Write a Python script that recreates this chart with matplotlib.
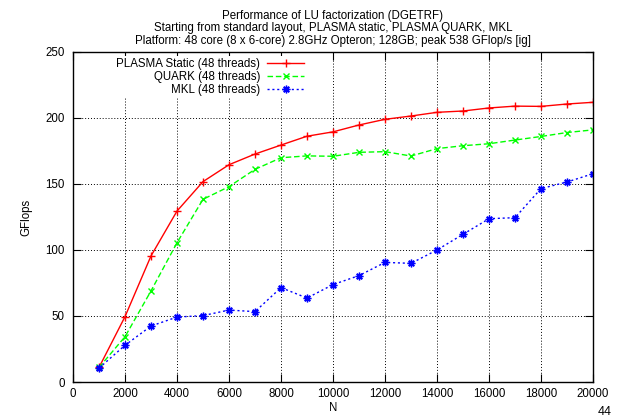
import numpy as np
import matplotlib.pyplot as plt

plt.rcParams['font.family'] = ['Liberation Sans', 'DejaVu Sans']

# data
n = [1000, 2000, 3000, 4000, 5000, 6000, 7000, 8000, 9000, 10000,
     11000, 12000, 13000, 14000, 15000, 16000, 17000, 18000, 19000, 20000]

plasma = [11.0, 49.5, 95.5, 129.5, 151.8, 164.6, 172.7, 179.5, 186.2, 189.5,
          194.7, 199.0, 201.5, 204.3, 205.3, 207.6, 209.0, 208.8, 210.6, 211.9]
quark = [11.0, 34.3, 69.0, 105.5, 138.4, 148.0, 161.1, 169.9, 171.3, 171.0,
         174.0, 174.5, 171.2, 176.8, 179.0, 180.5, 183.3, 186.0, 189.0, 191.0]
mkl = [10.5, 27.8, 42.4, 49.2, 50.3, 54.5, 53.3, 71.5, 63.6, 73.8,
       80.6, 90.6, 89.9, 100.0, 111.9, 123.7, 124.5, 146.5, 151.5, 157.8]

labels = ["PLASMA Static (48 threads)", "QUARK (48 threads)", "MKL (48 threads)"]

title = ("Performance of LU factorization (DGETRF)\n"
         "Starting from standard layout, PLASMA static, PLASMA QUARK, MKL\n"
         "Platform: 48 core (8 x 6-core) 2.8GHz Opteron; 128GB; peak 538 GFlop/s [ig]")

fig = plt.figure(figsize=(6.18, 4.19), dpi=100)
ax = fig.add_axes([73 / 618, 37 / 419, 520 / 618, 330 / 419])

ax.plot(n, plasma, color="#ff0000", ls="-", lw=1.0, marker="+", ms=5.5, mew=1.0, label=labels[0])
ax.plot(n, quark, color="#00ff00", ls=(0, (4, 2)), lw=1.0, marker="x", ms=4.5, mew=1.0, label=labels[1])
ax.plot(n, mkl, color="#0000ff", ls=(0, (1.5, 2)), lw=1.0, marker=(8, 2, 0), ms=5.5, mew=1.0, label=labels[2])

ax.set_xlim(0, 20000)
ax.set_ylim(0, 250)
ax.set_xticks(np.arange(0, 20001, 2000))
ax.set_yticks(np.arange(0, 251, 50))
ax.grid(True, color="black", ls=(0, (1, 2)), lw=0.7)
ax.set_axisbelow(True)
ax.tick_params(direction="in", length=6, width=0.8, top=True, right=True, labelsize=8.3)
ax.tick_params(axis="x", pad=4)
ax.tick_params(axis="y", pad=6)
for s in ax.spines.values():
    s.set_linewidth(1.0)

ax.set_xlabel("N", fontsize=8.3, labelpad=2)
ax.set_ylabel("GFlops", fontsize=8.3, labelpad=9)
ax.set_title(title, fontsize=8.3, linespacing=1.05, pad=6)

leg = ax.legend(loc="upper right", bbox_to_anchor=(0.46, 1.005), markerfirst=False,
                fontsize=8.3, frameon=True, fancybox=False, framealpha=1,
                edgecolor="none", facecolor="white", handlelength=3.2,
                handletextpad=0.6, labelspacing=0.05, borderpad=0.2)

fig.text(598 / 618, 1 / 419, "44", fontsize=9, va="bottom", ha="left")

fig.savefig("out.png", dpi=100)
